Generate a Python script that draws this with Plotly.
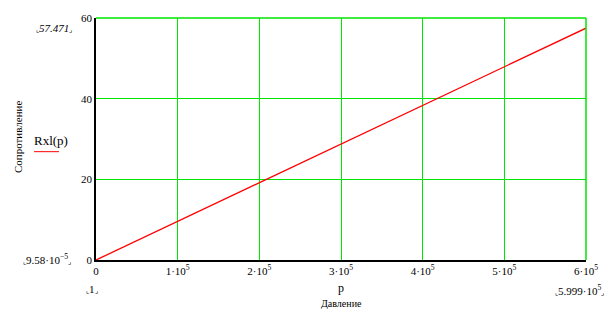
import plotly.graph_objects as go

# data
p_vals = [0.0, 599900.0]
R_vals = [9.58e-5, 57.471]
x_ticks = [0, 100000, 200000, 300000, 400000, 500000, 600000]
x_ticktext = ["0", "1·10<sup>5</sup>", "2·10<sup>5</sup>", "3·10<sup>5</sup>",
              "4·10<sup>5</sup>", "5·10<sup>5</sup>", "6·10<sup>5</sup>"]
y_ticks = [0, 20, 40, 60]
y_ticktext = ["0", "20", "40", "60"]

W, H = 616, 313
L, R, T, B = 96, 30, 12, 53
pw, ph = W - L - R, H - T - B

def px(x, y):
    return (x - L) / pw, (H - B - y) / ph

FONT = "Liberation Serif, Times New Roman, serif"
GREEN = "#00e600"

fig = go.Figure()
fig.add_trace(go.Scatter(x=p_vals, y=R_vals, mode="lines",
                         line=dict(color="#ff0000", width=1.3),
                         showlegend=False, hoverinfo="skip"))

fig.update_layout(
    width=W, height=H,
    margin=dict(l=L, r=R, t=T, b=B),
    paper_bgcolor="white", plot_bgcolor="white",
    font=dict(family=FONT, size=11, color="black"),
    xaxis=dict(range=[0, 600000], tickvals=x_ticks, ticktext=x_ticktext,
               showgrid=True, gridcolor=GREEN, gridwidth=1,
               showline=True, linecolor="black", linewidth=1.5,
               zeroline=False, ticks="", ticklen=0, mirror=False,
               tickfont=dict(family=FONT, size=11)),
    yaxis=dict(range=[0, 60], tickvals=y_ticks, ticktext=y_ticktext,
               showgrid=True, gridcolor=GREEN, gridwidth=1,
               showline=True, linecolor="black", linewidth=1.5,
               zeroline=False, ticks="", ticklen=0, mirror=False,
               tickfont=dict(family=FONT, size=11)),
)

fig.add_shape(type="line", xref="paper", yref="paper", x0=0, x1=1, y0=1, y1=1,
              line=dict(color=GREEN, width=1.5))
fig.add_shape(type="line", xref="paper", yref="paper", x0=1, x1=1, y0=0, y1=1,
              line=dict(color=GREEN, width=1.5))

def ann(text, x, y, size=10, angle=0, color="black"):
    ax, ay = px(x, y)
    fig.add_annotation(text=text, x=ax, y=ay, xref="paper", yref="paper",
                       showarrow=False, xanchor="center", yanchor="middle",
                       textangle=angle, font=dict(family=FONT, size=size, color=color))

LB = "<span style='font-size:7px'>⌞</span>"
RB = "<span style='font-size:7px'>⌟</span>"

ann(LB + "<i>57.471</i>" + RB, 54, 22, size=11)
ann(LB + "9.58·10<sup>−5</sup>" + RB, 47, 259, size=11)
ann(LB + "1" + RB, 92, 290, size=11)
ann(LB + "5.999·10<sup>5</sup>" + RB, 579, 291, size=11)
ann("p", 341, 289, size=12)
ann("Давление", 341, 305, size=10)
ann("Rxl(p)", 51, 138, size=13)
ann("Сопротивление", 18, 134, size=11, angle=-90)

x0, y0 = px(34, 149)
x1, _ = px(59, 149)
fig.add_shape(type="line", xref="paper", yref="paper", x0=x0, x1=x1, y0=y0, y1=y0,
              line=dict(color="#ff0000", width=1))

fig.write_html("out.html")
